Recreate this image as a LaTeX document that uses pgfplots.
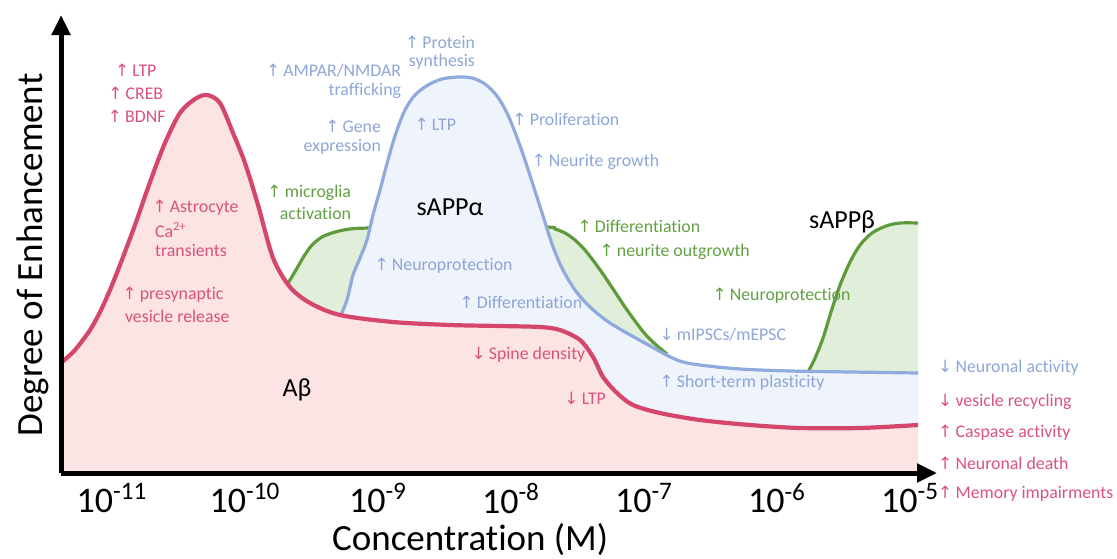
\documentclass[border=0pt]{standalone}
\usepackage{fontspec}
\setmainfont[Ligatures={NoCommon}]{Carlito}
\newfontfamily\arrfont[Scale=0.95]{DejaVu Sans}
\usepackage{pgfplots}
\usepackage{pgfplotstable}
\pgfplotsset{compat=1.18}
\usetikzlibrary{arrows.meta}

\definecolor{abline}{HTML}{D4466B}
\definecolor{abfill}{HTML}{FCE3E4}
\definecolor{saline}{HTML}{8FAADC}
\definecolor{safill}{HTML}{EFF3FB}
\definecolor{sbline}{HTML}{5E9B3C}
\definecolor{sbfill}{HTML}{E1EED9}
\definecolor{redtxt}{HTML}{D9537A}
\definecolor{bluetxt}{HTML}{8CA6D8}
\definecolor{greentxt}{HTML}{62A043}

\newcommand{\up}{{\arrfont\kern-0.15em\char"2191\kern-0.05em}\space}
\newcommand{\dn}{{\arrfont\kern-0.15em\char"2193\kern-0.05em}\space}

\pgfplotstableread{
x y
-11.376 111
-11.278 123
-11.165 143
-11.090 161
-11.015 183
-10.940 208
-10.827 248
-10.714 291
-10.602 330
-10.489 360
-10.376 374
-10.286 378
-10.188 370
-10.090 340
-10.000 310
-9.902 268
-9.789 215
-9.662 186
-9.511 170
-9.286 158
-8.887 151
-8.459 148
-8.083 147
-7.782 146
-7.632 143
-7.481 133
-7.383 116
-7.308 96
-7.203 80
-7.083 68
-6.880 60
-6.579 53
-6.203 48
-5.827 45
-5.376 45
-4.940 48
}\abeta

\pgfplotstableread{
x y
-9.286 156
-9.233 173
-9.188 198
-9.135 215
-9.083 233
-9.038 258
-8.985 283
-8.925 313
-8.865 340
-8.797 363
-8.722 378
-8.624 388
-8.519 394
-8.398 396
-8.293 395
-8.195 389
-8.105 377
-8.030 360
-7.962 338
-7.895 313
-7.827 285
-7.759 257
-7.692 229
-7.617 205
-7.519 183
-7.406 166
-7.256 150
-7.008 131
-6.752 113
-6.579 108
-6.278 104
-5.902 102
-5.451 101
-4.940 100
}\sappa

\pgfplotstableread{
x y
-9.680 189
-9.617 203
-9.556 217
-9.496 228
-9.421 236
-9.323 241
-9.211 244
-9.060 245
-8.459 246
-7.744 246
-7.669 244
-7.594 240
-7.519 233
-7.444 223
-7.368 210
-7.293 196
-7.218 181
-7.143 166
-7.068 152
-6.992 139
-6.917 129
-6.827 119
}\sappbleft

\pgfplotstableread{
x y
-5.767 101
-5.714 115
-5.654 135
-5.594 161
-5.526 188
-5.451 211
-5.376 228
-5.286 240
-5.180 247
-5.075 250
-4.940 250
}\sappbright

\begin{document}
\begin{tikzpicture}
\begin{axis}[
  scale only axis, width=438pt, height=229pt,
  xmin=-11.383, xmax=-4.797, ymin=0, ymax=458,
  axis x line=bottom, axis y line=left,
  axis line style={line width=2.5pt, -{Triangle[length=10pt,width=9pt]}},
  axis on top, clip=false,
  xtick={-11,-10,-9,-8,-7,-6,-5},
  xticklabels={10\textsuperscript{-11},10\textsuperscript{-10},10\textsuperscript{-9},10\textsuperscript{-8},10\textsuperscript{-7},10\textsuperscript{-6},10\textsuperscript{-5}},
  ytick=\empty, major tick length=0pt,
  xticklabel style={font=\fontsize{18}{18}\selectfont, inner sep=0pt, yshift=-5pt},
  xlabel={Concentration (M)}, ylabel={Degree of Enhancement},
  xlabel style={font=\fontsize{18.5}{20}\selectfont, at={(axis description cs:0.467,-0.146)}, anchor=center},
  ylabel style={font=\fontsize{18.5}{20}\selectfont, at={(axis description cs:-0.032,0.476)}, anchor=center},
  every node/.append style={inner sep=0pt},
]
% green (sAPPbeta) areas
\addplot[fill=sbfill, draw=none, smooth, tension=0.5] table {\sappbleft} \closedcycle;
\addplot[fill=sbfill, draw=none, smooth, tension=0.5] table {\sappbright} \closedcycle;
\addplot[sbline, line width=1.6pt, smooth, tension=0.5] table {\sappbleft};
\addplot[sbline, line width=1.6pt, smooth, tension=0.5] table {\sappbright};
% blue (sAPPalpha)
\addplot[fill=safill, draw=none, smooth, tension=0.5] table {\sappa} \closedcycle;
\addplot[saline, line width=1.6pt, smooth, tension=0.5] table {\sappa};
% red (Abeta)
\addplot[fill=abfill, draw=none, smooth, tension=0.5] table {\abeta} \closedcycle;
\addplot[abline, line width=2.1pt, smooth, tension=0.5] table {\abeta};

\begin{scope}[font=\fontsize{8.9}{10}\selectfont]
% red annotations
\node[redtxt] at (axis cs:-10.812,403) {\up LTP};
\node[redtxt] at (axis cs:-10.812,380) {\up CREB};
\node[redtxt] at (axis cs:-10.805,357) {\up BDNF};
\node[redtxt, anchor=west] at (axis cs:-10.729,265) {\up Astrocyte};
\node[redtxt, anchor=west] at (axis cs:-10.729,243) {Ca\textsuperscript{2+}};
\node[redtxt, anchor=west] at (axis cs:-10.729,223) {transients};
\node[redtxt, anchor=west] at (axis cs:-10.955,178) {\up presynaptic};
\node[redtxt, anchor=west] at (axis cs:-10.955,157) {vesicle release};
\node[redtxt, anchor=west] at (axis cs:-8.331,118) {\dn Spine density};
\node[redtxt, anchor=west] at (axis cs:-7.632,75) {\dn LTP};
\node[redtxt, anchor=west] at (axis cs:-4.822,71) {\dn vesicle recycling};
\node[redtxt, anchor=west] at (axis cs:-4.822,40) {\up Caspase activity};
\node[redtxt, anchor=west] at (axis cs:-4.822,10) {\up Neuronal death};
\node[redtxt, anchor=west] at (axis cs:-4.822,-21) {\up Memory impairments};
% blue annotations
\node[bluetxt, anchor=east] at (axis cs:-8.218,431) {\up Protein};
\node[bluetxt, anchor=east] at (axis cs:-8.218,411) {synthesis};
\node[bluetxt, anchor=east] at (axis cs:-8.774,402) {\up AMPAR/NMDAR};
\node[bluetxt, anchor=east] at (axis cs:-8.774,382) {trafficking};
\node[bluetxt, anchor=east] at (axis cs:-8.925,347) {\up Gene};
\node[bluetxt, anchor=east] at (axis cs:-8.925,326) {expression};
\node[bluetxt, anchor=west] at (axis cs:-8.759,349) {\up LTP};
\node[bluetxt, anchor=west] at (axis cs:-8.023,354) {\up Proliferation};
\node[bluetxt, anchor=west] at (axis cs:-7.880,311) {\up Neurite growth};
\node[bluetxt, anchor=west] at (axis cs:-9.060,207) {\up Neuroprotection};
\node[bluetxt, anchor=west] at (axis cs:-8.421,171) {\up Differentiation};
\node[bluetxt, anchor=west] at (axis cs:-6.917,138) {\dn mIPSCs/mEPSC};
\node[bluetxt, anchor=west] at (axis cs:-6.917,90) {\up Short-term plasticity};
\node[bluetxt, anchor=west] at (axis cs:-4.822,105) {\dn Neuronal activity};
% green annotations
\node[greentxt, anchor=east] at (axis cs:-9.150,280) {\up microglia};
\node[greentxt, anchor=east] at (axis cs:-9.150,260) {activation};
\node[greentxt, anchor=west] at (axis cs:-7.534,247) {\up Differentiation};
\node[greentxt, anchor=west] at (axis cs:-7.368,221) {\up neurite outgrowth};
\node[greentxt, anchor=west] at (axis cs:-6.519,177) {\up Neuroprotection};
\end{scope}
% black labels
\node[font=\fontsize{13}{14}\selectfont] at (axis cs:-8.459,266) {sAPPα};
\node[font=\fontsize{13}{14}\selectfont] at (axis cs:-9.609,83) {Aβ};
\node[font=\fontsize{13}{14}\selectfont] at (axis cs:-5.511,251) {sAPPβ};

\coordinate (bbl) at (axis cs:-11.842,-85);
\coordinate (btr) at (axis cs:-3.444,473);
\end{axis}
\pgfresetboundingbox
\useasboundingbox (bbl) rectangle (btr);
\end{tikzpicture}
\end{document}
